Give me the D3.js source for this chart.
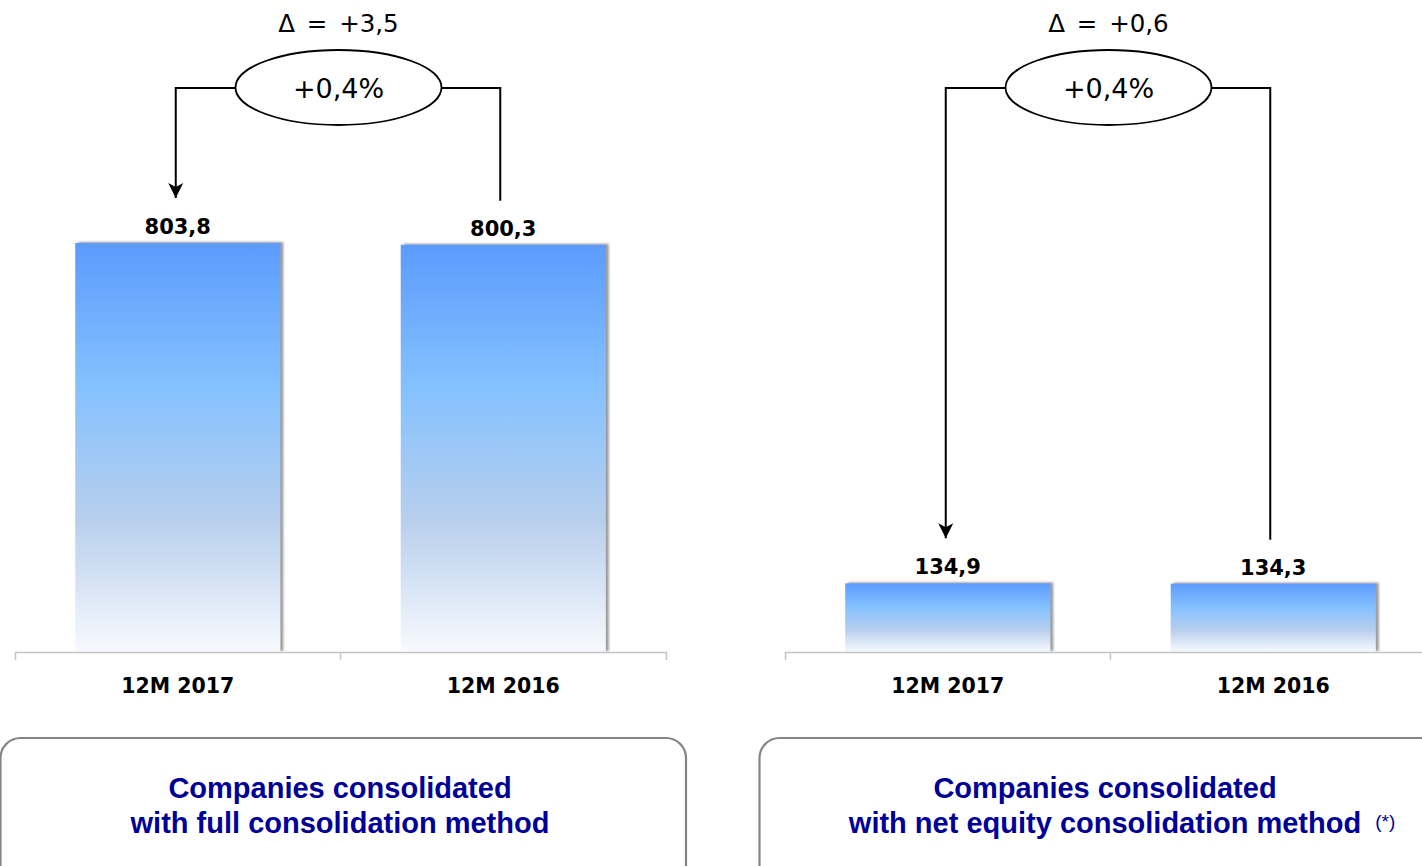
<!DOCTYPE html>
<html>
<head>
<meta charset="utf-8">
<script src="https://cdn.jsdelivr.net/npm/d3@7"></script>
<style>
  html, body { margin: 0; padding: 0; background: #ffffff; }
  svg { display: block; }
</style>
</head>
<body>
<svg id="chart" width="1422" height="866"></svg>
<script>
// ---- data ----
const categories = ["12M 2017", "12M 2016"];
const fullValues = [803.8, 800.3];
const equityValues = [134.9, 134.3];
const deltaLabels = ["+3,5", "+0,6"];
const pctLabels = ["+0,4%", "+0,4%"];
const boxLine1 = ["Companies consolidated", "Companies consolidated"];
const boxLine2 = ["with full consolidation method", "with net equity consolidation method"];
const footnoteMarks = ["", "(*)"];

const fmt = v => d3.format(".1f")(v).replace(".", ",");

const svg = d3.select("#chart");
const defs = svg.append("defs");

// bar gradient
const grad = defs.append("linearGradient").attr("id", "barGrad")
  .attr("x1", 0).attr("y1", 0).attr("x2", 0).attr("y2", 1);
[["0%", "#5c9bfd"], ["35%", "#84c1ff"], ["68%", "#b8cfec"], ["100%", "#f8fafe"]]
  .forEach(([o, c]) => grad.append("stop").attr("offset", o).attr("stop-color", c));

// bar shadow
const f = defs.append("filter").attr("id", "barShadow")
  .attr("x", "-10%").attr("y", "-10%").attr("width", "130%").attr("height", "120%");
f.append("feDropShadow").attr("dx", 3).attr("dy", -1).attr("stdDeviation", 1)
  .attr("flood-color", "#7a7a7a").attr("flood-opacity", 0.75);

// arrow marker
defs.append("marker").attr("id", "arrow")
  .attr("viewBox", "-15 -8 16 16").attr("refX", 0).attr("refY", 0)
  .attr("markerWidth", 16).attr("markerHeight", 16)
  .attr("markerUnits", "userSpaceOnUse").attr("orient", "auto")
  .append("path").attr("d", "M0,0 L-15,-7.5 L-11,0 L-15,7.5 Z").attr("fill", "#000");

const baseY = 652;
const y = d3.scaleLinear().domain([0, 803.8]).range([baseY, 243]);

const panels = [
  { x0: 15, x1: 666, values: fullValues },
  { x0: 785, x1: 1436, values: equityValues }
];

panels.forEach((p, pi) => {
  const g = svg.append("g");
  const x = d3.scaleBand().domain(categories).range([p.x0, p.x1])
    .paddingInner(0.37).paddingOuter(0.185);

  // bars
  g.selectAll("rect.bar").data(categories).join("rect")
    .attr("class", "bar")
    .attr("x", d => x(d))
    .attr("y", (d, i) => y(p.values[i]))
    .attr("width", x.bandwidth())
    .attr("height", (d, i) => baseY - y(p.values[i]))
    .attr("fill", "url(#barGrad)")
    .attr("filter", "url(#barShadow)");

  // axis
  const axis = d3.axisBottom(x).tickSizeInner(0).tickSizeOuter(8).tickPadding(26);
  const ag = g.append("g").attr("transform", `translate(0,${baseY})`).call(axis);
  ag.select(".domain").attr("stroke", "#c4c4c4").attr("stroke-width", 1.5);
  ag.selectAll(".tick text")
    .attr("font-family", "'DejaVu Sans', Verdana, sans-serif")
    .attr("font-weight", "bold").attr("font-size", 20.5).attr("fill", "#000");
  // boundary tick between categories
  const midX = x(categories[1]) - x.step() * x.paddingInner() / 2;
  ag.append("line").attr("x1", midX).attr("x2", midX).attr("y1", 0).attr("y2", 8)
    .attr("stroke", "#c4c4c4").attr("stroke-width", 1.5);

  // value labels
  g.selectAll("text.val").data(categories).join("text")
    .attr("class", "val")
    .attr("x", d => x(d) + x.bandwidth() / 2)
    .attr("y", (d, i) => y(p.values[i]) - 9)
    .attr("text-anchor", "middle")
    .attr("font-family", "'DejaVu Sans', Verdana, sans-serif")
    .attr("font-weight", "bold").attr("font-size", 21).attr("fill", "#000")
    .text((d, i) => fmt(p.values[i]));

  // connector
  const c0 = x(categories[0]) + x.bandwidth() / 2;
  const c1 = x(categories[1]) + x.bandwidth() / 2;
  const ecx = (c0 + c1) / 2 - 2, ecy = 87.5, rx = 103, ry = 37.5;
  g.append("path")
    .attr("d", `M${ecx - rx},88 H${c0 - 2} V${y(p.values[0]) - 45}`)
    .attr("fill", "none").attr("stroke", "#000").attr("stroke-width", 2)
    .attr("marker-end", "url(#arrow)");
  g.append("path")
    .attr("d", `M${ecx + rx},88 H${c1 - 3} V${y(p.values[1]) - 44}`)
    .attr("fill", "none").attr("stroke", "#000").attr("stroke-width", 2);
  g.append("ellipse").attr("cx", ecx).attr("cy", ecy).attr("rx", rx).attr("ry", ry)
    .attr("fill", "#fff").attr("stroke", "#000").attr("stroke-width", 1.8);
  g.append("text").attr("x", ecx).attr("y", 98).attr("text-anchor", "middle")
    .attr("font-family", "'DejaVu Sans', Verdana, sans-serif")
    .attr("font-size", 27).attr("fill", "#000").text(pctLabels[pi]);
  g.append("text").attr("x", ecx).attr("y", 32).attr("text-anchor", "middle")
    .attr("font-family", "'DejaVu Sans', Verdana, sans-serif")
    .attr("font-size", 24.5).attr("word-spacing", 4).attr("fill", "#000")
    .text("\u0394 = " + deltaLabels[pi]);
});

// bottom boxes
const boxes = [
  { x: 0.5, w: 685.5, cx: 340 },
  { x: 759.5, w: 720, cx: 1105 }
];
boxes.forEach((b, i) => {
  svg.append("rect").attr("x", b.x).attr("y", 738).attr("width", b.w).attr("height", 200)
    .attr("rx", 20).attr("ry", 20)
    .attr("fill", "#fff").attr("stroke", "#858585").attr("stroke-width", 2.2);
  svg.append("text").attr("x", b.cx).attr("y", 798).attr("text-anchor", "middle")
    .attr("font-family", "'Liberation Sans', Arial, sans-serif")
    .attr("font-weight", "bold").attr("font-size", 29).attr("fill", "#000099")
    .text(boxLine1[i]);
  const t2 = svg.append("text").attr("x", b.cx).attr("y", 833).attr("text-anchor", "middle")
    .attr("font-family", "'Liberation Sans', Arial, sans-serif")
    .attr("font-weight", "bold").attr("font-size", 29).attr("fill", "#000099")
    .text(boxLine2[i]);
  if (footnoteMarks[i]) {
    const w = t2.node().getComputedTextLength();
    svg.append("text").attr("x", b.cx + w / 2 + 14).attr("y", 828)
      .attr("font-family", "'Liberation Sans', Arial, sans-serif")
      .attr("font-size", 19).attr("fill", "#000099")
      .text(footnoteMarks[i]);
  }
});
</script>
</body>
</html>
